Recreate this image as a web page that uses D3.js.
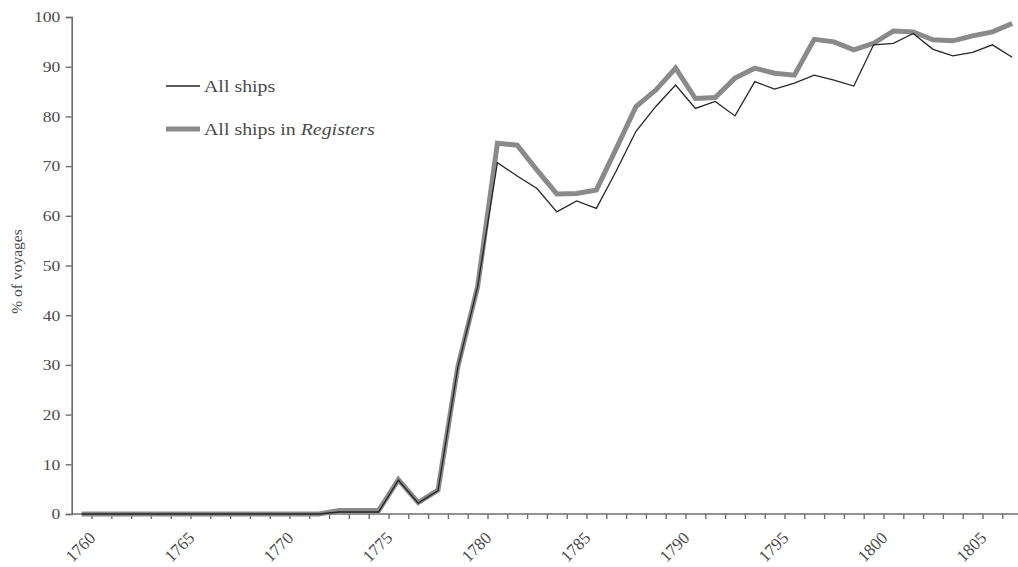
<!DOCTYPE html>
<html>
<head>
<meta charset="utf-8">
<script src="https://cdn.jsdelivr.net/npm/d3@7"></script>
<style>
  html, body { margin: 0; padding: 0; background: #fff; }
  svg { display: block; }
  text { font-family: "Liberation Serif", "Times New Roman", serif; fill: #4a4a4a; }
</style>
</head>
<body>
<svg id="chart" width="1018" height="567"></svg>
<script>
// Years on the category axis
const years = [1760, 1761, 1762, 1763, 1764, 1765, 1766, 1767, 1768, 1769,
               1770, 1771, 1772, 1773, 1774, 1775, 1776, 1777, 1778, 1779,
               1780, 1781, 1782, 1783, 1784, 1785, 1786, 1787, 1788, 1789,
               1790, 1791, 1792, 1793, 1794, 1795, 1796, 1797, 1798, 1799,
               1800, 1801, 1802, 1803, 1804, 1805, 1806, 1807];

// % of voyages, all ships
const allShips = [0, 0, 0, 0, 0, 0, 0, 0, 0, 0,
                  0, 0, 0, 0.4, 0.4, 0.4, 6.8, 2.2, 4.7, 29.5,
                  45.7, 70.7, 68.0, 65.5, 60.8, 63.0, 61.5, 69.0, 77.0, 82.0,
                  86.3, 81.6, 83.0, 80.1, 87.0, 85.5, 86.7, 88.3, 87.3, 86.1,
                  94.4, 94.7, 96.7, 93.5, 92.2, 92.9, 94.4, 91.9];

// % of voyages, all ships listed in the Registers
const inRegisters = [0, 0, 0, 0, 0, 0, 0, 0, 0, 0,
                     0, 0, 0, 0.7, 0.7, 0.7, 6.9, 2.3, 4.8, 29.6,
                     45.7, 74.6, 74.2, 69.2, 64.4, 64.5, 65.2, 73.5, 82.0, 85.3,
                     89.7, 83.6, 83.8, 87.7, 89.7, 88.7, 88.3, 95.5, 95.0, 93.4,
                     94.7, 97.2, 97.0, 95.4, 95.2, 96.2, 97.0, 98.7];

const yTicks = [0, 10, 20, 30, 40, 50, 60, 70, 80, 90, 100];
const xLabelYears = [1760, 1765, 1770, 1775, 1780, 1785, 1790, 1795, 1800, 1805];
const seriesNames = ["All ships", "All ships in "];

const svg = d3.select("#chart");

const plotLeft = 71.7, plotBottom = 514, plotTop = 17;
const step = 19.8;
const textStretch = 1.17; // wide typeface look

// Each year occupies one category slot; ticks fall between slots
const x = d3.scaleLinear()
  .domain([years[0] - 0.5, years[years.length - 1] + 0.5])
  .range([plotLeft, plotLeft + step * years.length]);
const y = d3.scaleLinear().domain([0, 100]).range([plotBottom, plotTop]);

const axisColor = "#6e6e6e";

// Y axis
const yAxis = svg.append("g")
  .attr("transform", `translate(${plotLeft},0)`)
  .call(d3.axisLeft(y).tickValues(yTicks).tickSize(6).tickPadding(5));
yAxis.select(".domain").attr("stroke", axisColor).attr("stroke-width", 1.7);
yAxis.selectAll(".tick line").attr("stroke", axisColor).attr("stroke-width", 1.4);
yAxis.selectAll(".tick text")
  .attr("x", null)
  .attr("transform", `translate(-11.5,0) scale(${textStretch},1)`)
  .attr("font-family", "Liberation Serif, serif")
  .attr("font-size", 15)
  .attr("fill", "#4a4a4a");

// X axis: tick marks between categories
const boundaries = years.slice(1).map(d => d - 0.5).concat([years[years.length - 1] + 0.5]);
const xAxis = svg.append("g")
  .attr("transform", `translate(0,${plotBottom})`)
  .call(d3.axisBottom(x).tickValues(boundaries).tickSize(5).tickFormat(""));
xAxis.select(".domain").attr("stroke", axisColor).attr("stroke-width", 1.6)
  .attr("d", `M${plotLeft},0H${x.range()[1]}`);
xAxis.selectAll(".tick line").attr("stroke", axisColor).attr("stroke-width", 1.4);

// Rotated year labels every five years
svg.append("g").selectAll("text")
  .data(xLabelYears)
  .join("text")
  .attr("transform", d => `translate(${x(d) + 15},${plotBottom + 25}) rotate(-45)`)
  .attr("text-anchor", "end")
  .attr("font-size", 17)
  .text(d => d);

// Y axis title
svg.append("text")
  .attr("transform", `translate(22,${(plotTop + plotBottom) / 2 + 6}) rotate(-90)`)
  .attr("text-anchor", "middle")
  .attr("font-size", 15.5)
  .text("% of voyages");

// Series lines
const line = values => d3.line()
  .x((d, i) => x(years[i]))
  .y(d => y(d))(values);

svg.append("path")
  .attr("d", line(inRegisters))
  .attr("fill", "none")
  .attr("stroke", "#8a8a8a")
  .attr("stroke-width", 5)
  .attr("stroke-linejoin", "miter");

svg.append("path")
  .attr("d", line(allShips))
  .attr("fill", "none")
  .attr("stroke", "#262626")
  .attr("stroke-width", 1.3)
  .attr("stroke-linejoin", "miter");

// Legend
const legend = svg.append("g");
legend.append("line")
  .attr("x1", 166).attr("x2", 200).attr("y1", 86).attr("y2", 86)
  .attr("stroke", "#262626").attr("stroke-width", 1.4);
legend.append("text")
  .attr("transform", `translate(204,91.5) scale(${textStretch},1)`)
  .attr("font-size", 17)
  .text(seriesNames[0]);

legend.append("line")
  .attr("x1", 166).attr("x2", 200).attr("y1", 129).attr("y2", 129)
  .attr("stroke", "#8a8a8a").attr("stroke-width", 5);
const t2 = legend.append("text")
  .attr("transform", `translate(204,134.5) scale(${textStretch},1)`)
  .attr("font-size", 17)
  .text(seriesNames[1]);
t2.append("tspan").attr("font-style", "italic").text("Registers");
</script>
</body>
</html>
